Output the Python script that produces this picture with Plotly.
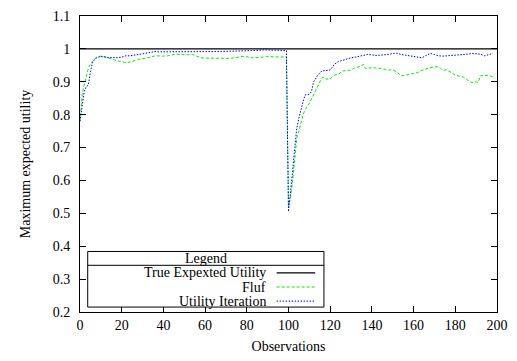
import plotly.graph_objects as go

# Observations and maximum expected utility for each method
fluf_obs = [0, 1, 2, 3, 4, 5, 6, 7, 8, 10, 12, 14, 16, 18, 20, 22, 24, 26, 28, 30,
            32, 34, 36, 38, 40, 42, 44, 46, 48, 50, 52, 54, 56, 58, 60, 62, 64, 66,
            68, 70, 72, 74, 76, 78, 80, 82, 84, 86, 88, 90, 92, 94, 96, 98, 99,
            100, 101, 102, 103, 104, 105, 106, 107, 108, 110, 112, 114, 116, 117,
            118, 120, 122, 124, 126, 128, 130, 132, 134, 136, 137, 138, 140, 142,
            144, 146, 148, 150, 152, 154, 156, 158, 160, 162, 164, 166, 168, 170,
            172, 173, 174, 176, 178, 180, 182, 184, 186, 188, 190, 191, 192, 194,
            196, 198, 199]
fluf_val = [0.78, 0.86, 0.89, 0.92, 0.94, 0.955, 0.963, 0.97, 0.975, 0.978, 0.976,
            0.972, 0.966, 0.963, 0.962, 0.958, 0.960, 0.965, 0.968, 0.970, 0.972,
            0.975, 0.979, 0.978, 0.978, 0.979, 0.981, 0.984, 0.983, 0.982, 0.982,
            0.983, 0.979, 0.973, 0.972, 0.972, 0.971, 0.970, 0.971, 0.970, 0.971,
            0.973, 0.975, 0.977, 0.976, 0.973, 0.973, 0.973, 0.975, 0.977, 0.976,
            0.975, 0.975, 0.976, 0.976,
            0.52, 0.55, 0.60, 0.66, 0.73, 0.75, 0.775, 0.80, 0.815, 0.835, 0.86,
            0.885, 0.912, 0.914, 0.908, 0.909, 0.92, 0.923, 0.933, 0.934, 0.936,
            0.943, 0.946, 0.953, 0.94, 0.941, 0.943, 0.942, 0.941, 0.938, 0.936,
            0.936, 0.930, 0.918, 0.92, 0.922, 0.925, 0.928, 0.935, 0.940, 0.943,
            0.945, 0.946, 0.94, 0.935, 0.936, 0.928, 0.920, 0.917, 0.914, 0.905,
            0.897, 0.900, 0.898, 0.918, 0.920, 0.920, 0.914, 0.911]

ui_obs = [0, 1, 2, 3, 4, 5, 6, 7, 8, 10, 12, 14, 16, 18, 20, 22, 24, 26, 28, 30,
          32, 34, 36, 38, 40, 44, 48, 50, 52, 54, 56, 58, 60, 64, 68, 72, 76, 80,
          84, 88, 92, 96, 99,
          100, 101, 102, 103, 104, 105, 106, 107, 108, 110, 111, 112, 114, 116,
          118, 120, 122, 124, 126, 128, 130, 132, 134, 136, 138, 140, 142, 144,
          146, 148, 150, 152, 154, 156, 158, 160, 162, 164, 166, 168, 170, 172,
          174, 176, 178, 180, 182, 184, 186, 188, 190, 192, 194, 196, 198]
ui_val = [0.78, 0.83, 0.87, 0.885, 0.89, 0.93, 0.958, 0.968, 0.973, 0.977, 0.975,
          0.973, 0.974, 0.973, 0.975, 0.979, 0.979, 0.982, 0.983, 0.985, 0.988,
          0.989, 0.992, 0.991, 0.991, 0.992, 0.992, 0.991, 0.990, 0.990, 0.991,
          0.990, 0.992, 0.991, 0.992, 0.993, 0.993, 0.995, 0.995, 0.997, 0.996,
          0.996, 0.995,
          0.505, 0.56, 0.63, 0.70, 0.76, 0.79, 0.82, 0.84, 0.86, 0.862, 0.87,
          0.899, 0.92, 0.933, 0.934, 0.936, 0.953, 0.962, 0.965, 0.970, 0.973,
          0.975, 0.978, 0.979, 0.983, 0.982, 0.980, 0.981, 0.981, 0.983, 0.986,
          0.987, 0.983, 0.981, 0.980, 0.979, 0.977, 0.973, 0.98, 0.986, 0.983,
          0.979, 0.978, 0.979, 0.980, 0.981, 0.980, 0.981, 0.984, 0.986, 0.985,
          0.984, 0.979, 0.983, 0.986]

true_obs = [0, 200]
true_val = [1.0, 1.0]

x_ticks = [0, 20, 40, 60, 80, 100, 120, 140, 160, 180, 200]
y_ticks = [0.2, 0.3, 0.4, 0.5, 0.6, 0.7, 0.8, 0.9, 1.0, 1.1]
y_tick_text = ["0.2", "0.3", "0.4", "0.5", "0.6", "0.7", "0.8", "0.9", "1", "1.1"]

legend_entries = ["True Expexted Utility", "Fluf", "Utility Iteration"]
legend_colors = ["black", "#00ee00", "#0000ff"]
legend_dash = ["solid", "3px,2px", "1.5px,1.5px"]
legend_width = [1.2, 1.0, 1.0]

FONT = "Liberation Serif"

fig = go.Figure()
fig.add_trace(go.Scatter(x=true_obs, y=true_val, mode="lines",
                         line=dict(color=legend_colors[0], width=legend_width[0],
                                   dash=legend_dash[0]),
                         name=legend_entries[0]))
fig.add_trace(go.Scatter(x=fluf_obs, y=fluf_val, mode="lines",
                         line=dict(color=legend_colors[1], width=legend_width[1],
                                   dash=legend_dash[1]),
                         name=legend_entries[1]))
fig.add_trace(go.Scatter(x=ui_obs, y=ui_val, mode="lines",
                         line=dict(color=legend_colors[2], width=legend_width[2],
                                   dash=legend_dash[2]),
                         name=legend_entries[2]))

# Boxed key in the lower-left corner of the plot
box_x0, box_x1 = 3.7, 117.0
box_top, box_sep, box_bot = 0.384, 0.342, 0.215
fig.add_shape(type="rect", x0=box_x0, x1=box_x1, y0=box_bot, y1=box_top,
              line=dict(color="black", width=1), fillcolor="white", layer="above")
fig.add_shape(type="line", x0=box_x0, x1=box_x1, y0=box_sep, y1=box_sep,
              line=dict(color="black", width=1), layer="above")
fig.add_annotation(x=(box_x0 + box_x1) / 2, y=(box_top + box_sep) / 2, text="Legend",
                   showarrow=False, font=dict(family=FONT, size=14, color="black"))
row_y = [0.319, 0.276, 0.233]
for name, color, dash, w, ry in zip(legend_entries, legend_colors, legend_dash,
                                    legend_width, row_y):
    fig.add_annotation(x=90.0, y=ry, text=name, showarrow=False, xanchor="right",
                       font=dict(family=FONT, size=14, color="black"))
    fig.add_shape(type="line", x0=94.3, x1=112.8, y0=ry, y1=ry, layer="above",
                  line=dict(color=color, width=w, dash=dash))

axis_common = dict(showline=True, linecolor="black", linewidth=1, mirror="allticks",
                   ticks="inside", ticklen=6, tickcolor="black", tickwidth=1,
                   showgrid=False, zeroline=False,
                   tickfont=dict(family=FONT, size=14, color="black"))

fig.update_layout(
    width=517, height=361,
    margin=dict(l=80, r=15, t=9, b=48),
    plot_bgcolor="white", paper_bgcolor="white",
    showlegend=False,
    font=dict(family=FONT, size=14, color="black"),
    xaxis=dict(range=[0, 200], tickvals=x_ticks,
               title=dict(text="Observations", standoff=9,
                          font=dict(family=FONT, size=14)),
               **axis_common),
    yaxis=dict(range=[0.2, 1.1], tickvals=y_ticks, ticktext=y_tick_text,
               ticklabelstandoff=6,
               title=dict(text="Maximum expected utility", standoff=18,
                          font=dict(family=FONT, size=14)),
               **axis_common),
)

fig.write_html("out.html")
